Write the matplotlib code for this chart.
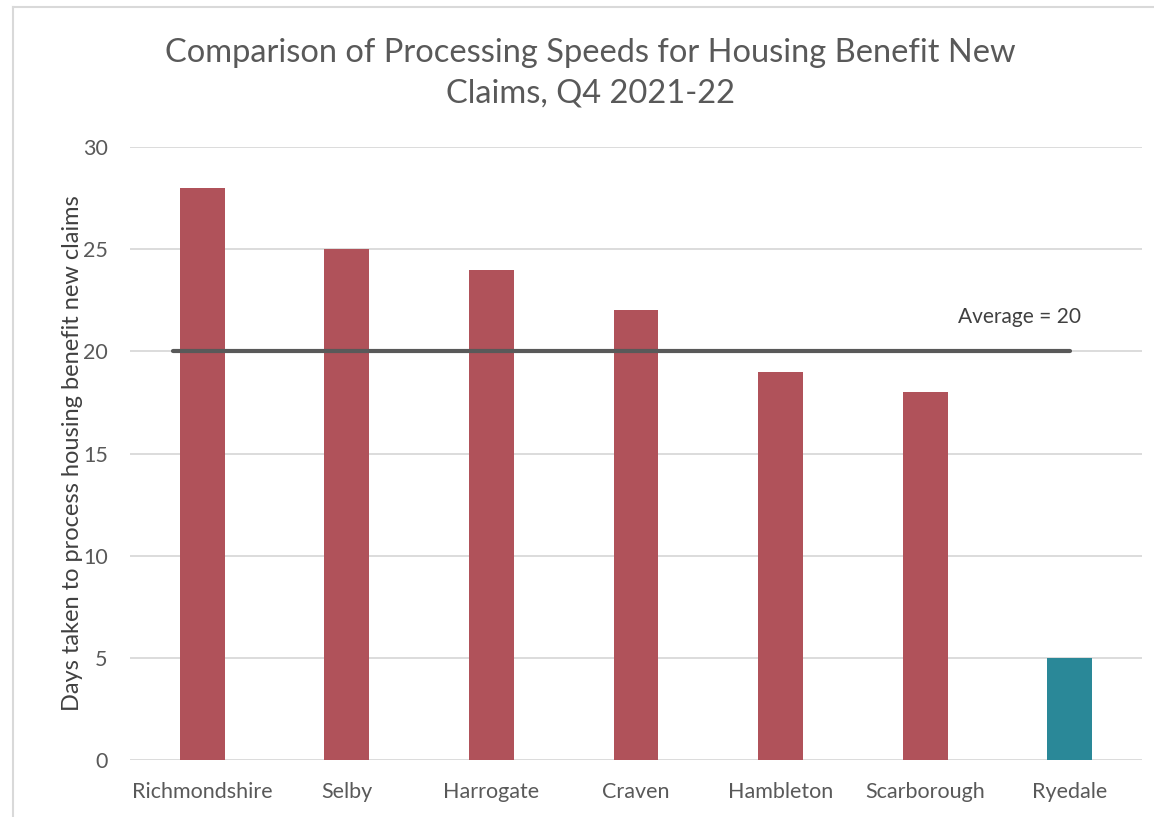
import matplotlib
matplotlib.use("Agg")
import matplotlib.pyplot as plt
from matplotlib.lines import Line2D

categories = ["Richmondshire", "Selby", "Harrogate", "Craven", "Hambleton", "Scarborough", "Ryedale"]
days = [28, 25, 24, 22, 19, 18, 5]
average = 20
bar_colors = ["#B0525A"] * 6 + ["#2A8898"]
yticks = [0, 5, 10, 15, 20, 25, 30]

plt.rcParams['font.family'] = ['Lato', 'DejaVu Sans']
W, H = 1154, 817
fig = plt.figure(figsize=(W / 100, H / 100), dpi=100)
ax = fig.add_axes([130 / W, 1 - 760 / H, (1142 - 130) / W, (760 - 147) / H])

x = list(range(len(categories)))
ax.bar(x, days, width=0.31, color=bar_colors, zorder=3)
ax.plot([-0.2, len(categories) - 1], [average, average], color="#595959", lw=3, solid_capstyle="round", zorder=4)
ax.text(5.65, 21.2, f"Average = {average}", ha="center", va="bottom", fontsize=15, color="#404040")

ax.set_xlim(-0.5, len(categories) - 0.5)
ax.set_ylim(0, 30)
ax.set_yticks(yticks)
ax.set_xticks(x)
ax.set_xticklabels(categories)
ax.grid(axis="y", color="#D9D9D9", lw=1.3, zorder=0)
ax.set_axisbelow(True)
for s in ax.spines.values():
    s.set_visible(False)
ax.tick_params(axis="both", length=0, labelsize=15.5, colors="#595959")
ax.tick_params(axis="y", pad=16)
ax.tick_params(axis="x", pad=16)
ax.set_ylabel("Days taken to process housing benefit new claims", fontsize=17, color="#404040", labelpad=0)

fig.text(590 / W, 1 - 73 / H, "Comparison of Processing Speeds for Housing Benefit New\nClaims, Q4 2021-22",
         ha="center", va="center", fontsize=23.5, color="#595959", linespacing=1.45)

fig.add_artist(Line2D([13 / W, 13 / W], [0, 1 - 7 / H], transform=fig.transFigure, color="#D9D9D9", lw=1.5))
fig.add_artist(Line2D([13 / W, 1], [1 - 7 / H, 1 - 7 / H], transform=fig.transFigure, color="#D9D9D9", lw=1.5))

fig.savefig("out.png", dpi=100)
